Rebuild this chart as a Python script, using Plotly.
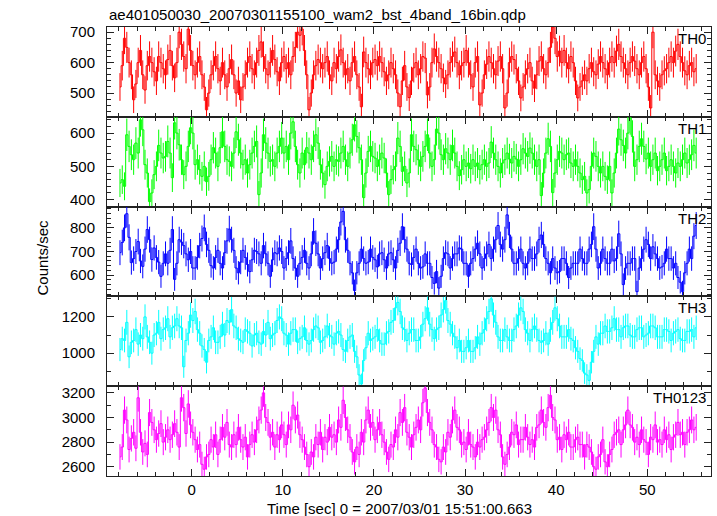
import numpy as np
import plotly.graph_objects as go

BIN = 0.25
T0 = -7.875

TITLE = "ae401050030_20070301155100_wam2_bst_4band_16bin.qdp"
XLABEL = "Time [sec] 0 = 2007/03/01 15:51:00.663"
YLABEL = "Counts/sec"
names = ["TH0", "TH1", "TH2", "TH3", "TH0123"]
colors = ["#ff0000", "#00ff00", "#0000ff", "#00ffff", "#ff00ff"]

th0 = [
    520, 590, 680, 650, 600, 560, 478, 530, 600, 640, 560, 510, 590, 620, 600, 570, 540, 620, 600, 580,
    560, 610, 640, 590, 550, 600, 700, 660, 620, 580, 710, 640, 590, 560, 600, 620, 560, 520, 445, 500,
    560, 590, 620, 580, 540, 600, 560, 520, 580, 610, 560, 500, 540, 478, 520, 560, 600, 620, 580, 560,
    600, 640, 668, 620, 580, 560, 600, 640, 610, 570, 540, 600, 620, 580, 600, 560, 620, 650, 700, 690,
    710, 640, 560, 445, 500, 560, 590, 610, 600, 580, 600, 620, 560, 540, 600, 580, 620, 642, 600, 560,
    580, 540, 600, 620, 560, 520, 455, 635, 600, 580, 560, 600, 610, 590, 620, 600, 570, 540, 560, 600,
    580, 560, 500, 455, 540, 590, 520, 485, 540, 583, 600, 560, 580, 620, 615, 494, 520, 600, 645, 620,
    600, 580, 550, 530, 560, 600, 620, 635, 600, 560, 590, 600, 640, 600, 560, 520, 600, 620, 461, 500,
    560, 595, 620, 600, 580, 560, 605, 620, 580, 451, 500, 600, 620, 610, 580, 540, 484, 520, 560, 580,
    600, 540, 516, 560, 605, 620, 580, 560, 600, 650, 717, 680, 620, 638, 600, 640, 600, 580, 620, 600,
    540, 484, 520, 540, 560, 540, 580, 600, 570, 560, 595, 620, 600, 580, 560, 600, 620, 600, 638, 660,
    620, 600, 580, 560, 600, 620, 605, 580, 560, 600, 620, 580, 520, 451, 700, 560, 540, 520, 560, 573,
    580, 600, 620, 600, 638, 660, 620, 600, 573, 560, 590, 600, 570, 580,
]
th1 = [
    450, 460, 440, 595, 560, 535, 520, 570, 540, 640, 610, 505, 480, 394, 420, 475, 500, 563, 540, 525,
    530, 575, 540, 466, 631, 600, 565, 520, 475, 500, 560, 616, 600, 505, 520, 490, 470, 500, 454, 470,
    520, 556, 540, 500, 556, 604, 560, 520, 515, 500, 540, 604, 580, 540, 505, 520, 480, 505, 540, 560,
    575, 415, 480, 595, 570, 540, 515, 520, 500, 540, 560, 585, 540, 560, 520, 600, 634, 560, 505, 480,
    540, 505, 556, 540, 520, 560, 595, 570, 505, 480, 445, 500, 515, 530, 500, 520, 515, 540, 560, 520,
    500, 540, 580, 625, 590, 556, 520, 406, 480, 545, 560, 530, 525, 500, 520, 540, 525, 480, 415, 460,
    490, 500, 585, 560, 485, 500, 450, 480, 595, 560, 550, 520, 500, 530, 560, 595, 540, 500, 520, 612,
    600, 535, 520, 553, 540, 520, 563, 540, 500, 472, 490, 520, 500, 510, 493, 520, 500, 510, 490, 505,
    520, 500, 510, 573, 540, 520, 500, 480, 510, 520, 540, 522, 510, 530, 522, 500, 520, 553, 540, 530,
    555, 540, 520, 500, 520, 412, 480, 540, 583, 560, 421, 480, 520, 545, 540, 520, 535, 540, 510, 500,
    520, 500, 480, 460, 470, 420, 430, 500, 540, 530, 500, 480, 500, 470, 460, 500, 420, 480, 540, 612,
    580, 563, 540, 600, 646, 590, 500, 520, 560, 583, 560, 522, 540, 500, 520, 540, 487, 500, 520, 540,
    487, 500, 520, 500, 480, 510, 500, 520, 540, 510, 520, 535, 563, 540,
]
th2 = [
    695, 738, 800, 860, 760, 653, 670, 700, 742, 660, 637, 710, 793, 750, 666, 715, 675, 655, 595, 650,
    690, 650, 705, 793, 582, 650, 750, 740, 725, 690, 665, 700, 630, 630, 675, 725, 755, 800, 730, 705,
    640, 630, 675, 705, 650, 630, 695, 745, 795, 750, 705, 630, 610, 655, 705, 675, 645, 615, 665, 705,
    700, 690, 650, 725, 690, 650, 595, 665, 695, 690, 715, 700, 630, 670, 695, 745, 670, 630, 595, 650,
    675, 705, 650, 630, 690, 785, 735, 690, 630, 670, 695, 725, 670, 650, 655, 710, 750, 825, 870, 750,
    705, 650, 610, 535, 610, 650, 710, 670, 650, 655, 710, 675, 665, 635, 690, 695, 665, 630, 690, 695,
    665, 630, 705, 735, 805, 750, 710, 650, 645, 675, 710, 650, 630, 635, 690, 650, 650, 590, 565, 615,
    545, 595, 670, 695, 690, 630, 670, 690, 690, 715, 710, 650, 650, 595, 650, 670, 710, 735, 690, 630,
    670, 690, 730, 670, 710, 750, 810, 730, 710, 750, 855, 770, 710, 650, 650, 670, 710, 650, 630, 650,
    710, 670, 670, 690, 750, 770, 730, 670, 650, 610, 670, 630, 610, 615, 670, 670, 650, 590, 630, 650,
    650, 650, 710, 670, 650, 650, 710, 730, 805, 710, 630, 650, 710, 670, 650, 650, 710, 660, 670, 775,
    690, 560, 630, 650, 650, 670, 670, 530, 630, 670, 710, 750, 730, 670, 720, 690, 670, 630, 635, 650,
    710, 670, 670, 630, 650, 590, 570, 530, 610, 650, 710, 670, 765, 810,
]
th3 = [
    1020, 1080, 1070, 1170, 980, 1060, 1070, 1130, 1050, 1100, 1080, 1200, 1090, 1060, 1000, 1100, 1110, 1170, 1080, 1130,
    1140, 1190, 1090, 1140, 1150, 1190, 1150, 1140, 925, 1070, 1110, 1210, 1180, 1230, 1130, 1110, 1040, 1020, 950, 1070,
    1090, 1140, 1060, 1060, 1090, 1160, 1100, 1180, 1170, 1240, 1150, 1140, 1080, 1070, 1060, 1130, 1120, 1110, 1040, 1100,
    1110, 1060, 1050, 1120, 1100, 1170, 1080, 1100, 1110, 1180, 1200, 1190, 1110, 1100, 1050, 1110, 1130, 1130, 1060, 1080,
    1090, 1140, 1070, 1050, 1070, 1130, 1150, 1140, 1060, 1070, 1090, 1150, 1100, 1090, 1050, 1110, 1120, 1100, 1020, 1010,
    1070, 1090, 1100, 1010, 980, 880, 830, 960, 1030, 1110, 1070, 1080, 1090, 1130, 1070, 1050, 1050, 1110, 1120, 1170,
    1180, 1250, 1280, 1230, 1140, 1130, 1070, 1110, 1130, 1130, 1070, 1070, 1090, 1160, 1190, 1250, 1160, 1130, 1080, 1130,
    1140, 1210, 1240, 1290, 1180, 1160, 1110, 1090, 1030, 1070, 1010, 1010, 1030, 1070, 1010, 1010, 1030, 1090, 1050, 1110,
    1130, 1190, 1230, 1300, 1210, 1170, 1090, 1070, 1070, 1130, 1090, 1070, 1070, 1130, 1150, 1210, 1250, 1230, 1130, 1110,
    1070, 1130, 1150, 1130, 1070, 1060, 1070, 1110, 1050, 1130, 1170, 1250, 1190, 1150, 1090, 1090, 1090, 1130, 1080, 1070,
    1030, 1010, 970, 960, 890, 880, 850, 950, 1010, 1090, 1050, 1110, 1110, 1150, 1120, 1120, 1140, 1190, 1130, 1130,
    1090, 1140, 1150, 1150, 1100, 1090, 1090, 1130, 1140, 1140, 1090, 1100, 1110, 1150, 1150, 1140, 1090, 1090, 1090, 1130,
    1130, 1120, 1070, 1110, 1120, 1130, 1080, 1070, 1070, 1120, 1120, 1130, 1090, 1140,
]
th0123 = [
    2680, 2760, 3060, 2980, 2740, 2830, 2880, 2750, 3160, 2880, 2720, 2790, 2700, 3040, 2960, 2900, 2820, 2870, 2950, 2800,
    2840, 2900, 2820, 2860, 2950, 2880, 2760, 3160, 3080, 2870, 3110, 2940, 2880, 2820, 2740, 2780, 2620, 2580, 2680, 2700,
    2820, 2760, 2860, 2700, 2820, 2920, 2840, 2960, 2780, 2760, 2860, 2780, 2920, 2820, 2760, 2840, 2680, 2780, 2860, 2800,
    2900, 2980, 3060, 3200, 3000, 2960, 2840, 2880, 2760, 2860, 2820, 2940, 2860, 2780, 2940, 2900, 3100, 2980, 3020, 2860,
    2820, 2760, 2700, 2600, 2720, 2680, 2840, 2780, 2880, 2740, 2840, 2800, 2920, 2840, 2860, 2800, 2980, 2920, 3140, 3000,
    2900, 2840, 2720, 2640, 2760, 2700, 2880, 2800, 2980, 3060, 2920, 2960, 2820, 2900, 2960, 2860, 2800, 2720, 2660, 2780,
    2760, 2900, 2840, 3040, 2960, 3080, 2880, 2840, 2760, 2860, 2920, 2980, 2900, 3120, 3240, 3040, 2960, 2900, 2780, 2760,
    2660, 2640, 2760, 2720, 2880, 2840, 2980, 3060, 2920, 2900, 2780, 2800, 2740, 2880, 2780, 2760, 2680, 2800, 2760, 2820,
    2840, 2900, 2960, 3080, 3000, 3060, 2900, 2860, 2680, 2620, 2700, 2760, 2880, 2860, 2940, 2780, 2820, 2820, 2920, 2840,
    2780, 2820, 2760, 2920, 2940, 3060, 2960, 2920, 3080, 3180, 3000, 2980, 2820, 2840, 2740, 2860, 2820, 2880, 2760, 2760,
    2820, 2840, 2780, 2780, 2680, 2780, 2760, 2720, 2600, 2580, 2680, 2700, 2820, 2640, 2600, 2700, 2740, 2860, 2880, 2900,
    2780, 2900, 2940, 3060, 2940, 2920, 2800, 2840, 2780, 2900, 2820, 2800, 2700, 2840, 2820, 2940, 2800, 2820, 2780, 2900,
    2820, 2860, 2740, 2840, 2860, 2960, 2860, 2880, 2780, 2880, 2900, 2980, 2900, 2920,
]
series = [th0, th1, th2, th3, th0123]

y_ranges = [[422, 717], [379, 649], [510, 890], [818, 1313], [2525, 3254]]
y_dtick = [100, 100, 100, 200, 200]
y_minor = [20, 20, 20, 100, 100]
x_range = [-9.3, 57.0]

FONT = "Liberation Sans, Arial, Helvetica, sans-serif"

W, H = 717, 516
ML, MR, MT, MB = 107, 6, 27, 40
PW = W - ML - MR

fig = go.Figure()
n_panels = len(series)
for k, (vals, col, name) in enumerate(zip(series, colors, names)):
    v = np.array(vals, dtype=float)
    t = T0 + BIN * np.arange(len(v))
    err = np.sqrt(v * BIN) / BIN
    ax = "" if k == 0 else str(k + 1)
    fig.add_trace(go.Scatter(
        x=t, y=v, mode="lines", line=dict(color=col, width=1, shape="hvh"),
        error_y=dict(type="data", array=err, width=0, thickness=1, color=col),
        xaxis="x" + ax, yaxis="y" + ax, showlegend=False, name=name,
        hoverinfo="skip",
    ))

layout = dict(
    width=W, height=H, margin=dict(l=ML, r=MR, t=MT, b=MB),
    paper_bgcolor="white", plot_bgcolor="white",
    font=dict(family=FONT, size=15, color="black"),
    showlegend=False,
)
annotations = []
for k in range(n_panels):
    top = 1 - k / n_panels
    bot = 1 - (k + 1) / n_panels
    ax = "" if k == 0 else str(k + 1)
    xa = dict(
        domain=[0, 1], range=x_range, showgrid=False, zeroline=False,
        showline=True, linecolor="#222", linewidth=1, mirror="allticks",
        ticks="inside", ticklen=7, tickwidth=1, tickcolor="#222", dtick=10, tick0=0,
        minor=dict(ticks="inside", ticklen=4, dtick=2, tick0=0, tickcolor="#222", showgrid=False),
        showticklabels=(k == n_panels - 1),
        anchor="y" + ax, automargin=False,
    )
    if k > 0:
        xa["matches"] = "x"
    if k == n_panels - 1:
        xa["tickfont"] = dict(size=15)
    ya = dict(
        domain=[bot, top], range=y_ranges[k], showgrid=False, zeroline=False,
        showline=True, linecolor="#222", linewidth=1, mirror="allticks",
        ticks="inside", ticklen=7, tickwidth=1, tickcolor="#222", dtick=y_dtick[k], tick0=0,
        minor=dict(ticks="inside", ticklen=4, dtick=y_minor[k], tick0=0, tickcolor="#222", showgrid=False),
        tickfont=dict(size=15), ticklabelstandoff=8,
        anchor="x" + ax, automargin=False,
    )
    layout["xaxis" + ax] = xa
    layout["yaxis" + ax] = ya
    annotations.append(dict(
        text=names[k], xref="paper", yref="paper", x=1, y=top, xanchor="right", yanchor="top",
        xshift=-3, yshift=-1, showarrow=False, font=dict(size=15, color="black"),
    ))

annotations.append(dict(
    text=TITLE, xref="paper", yref="paper", x=0, y=1, xanchor="left", yanchor="bottom",
    yshift=2, showarrow=False, font=dict(size=15, color="black"),
))
annotations.append(dict(
    text=YLABEL, xref="paper", yref="paper", x=0, y=0.5, xanchor="center", yanchor="middle",
    xshift=-65, yshift=-6, textangle=-90, showarrow=False, font=dict(size=15, color="black"),
))
annotations.append(dict(
    text=XLABEL, xref="paper", yref="paper", x=(399 - ML) / PW, y=0, xanchor="center",
    yanchor="middle", yshift=-32, borderpad=0, showarrow=False,
    font=dict(size=15, color="black"),
))
layout["annotations"] = annotations
fig.update_layout(**layout)
fig.write_html(
    "out.html",
    config={"displayModeBar": False},
    post_script="document.body.style.margin='0';document.body.style.padding='0';",
)
